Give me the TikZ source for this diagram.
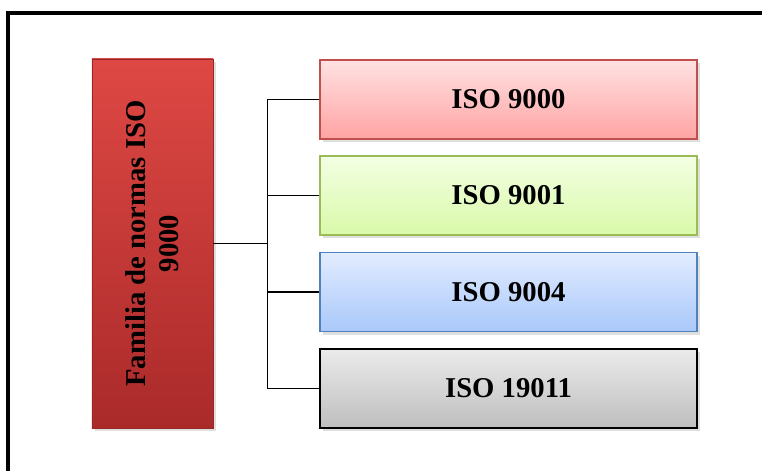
\documentclass[tikz,border=0pt]{standalone}
\usepackage{fontspec}
\setmainfont{Liberation Serif}
\usetikzlibrary{shadows}
\definecolor{famtop}{RGB}{222,72,68}
\definecolor{fambot}{RGB}{170,42,42}
\definecolor{famline}{RGB}{150,40,38}
\definecolor{redtop}{RGB}{255,226,226}
\definecolor{redbot}{RGB}{255,163,163}
\definecolor{redline}{RGB}{192,80,77}
\definecolor{greentop}{RGB}{243,255,227}
\definecolor{greenbot}{RGB}{217,249,169}
\definecolor{greenline}{RGB}{155,187,89}
\definecolor{bluetop}{RGB}{226,236,255}
\definecolor{bluebot}{RGB}{169,200,250}
\definecolor{blueline}{RGB}{79,129,189}
\definecolor{greytop}{RGB}{235,235,235}
\definecolor{greybot}{RGB}{190,190,190}
\tikzset{
    boxshadow/.style={drop shadow={shadow xshift=0.08cm, shadow yshift=-0.1cm, opacity=0.25}},
    isobox/.style={draw, line width=1.1pt, minimum width=11.31cm, minimum height=2.37cm,
        font=\bfseries\fontsize{24.5}{28}\selectfont, boxshadow},
    link/.style={line width=1.4pt},
}
\begin{document}
\begin{tikzpicture}[x=0.03cm, y=-0.03cm]
        \useasboundingbox (0,0) rectangle (762,470);
        %% outer frame
        \draw[line width=3.4pt] (8,480) -- (8,13) -- (775,13);
        %% family box
        \node[draw=famline, line width=0.6pt, top color=famtop, bottom color=fambot,
            rotate=90, minimum width=11.07cm, minimum height=3.63cm, align=center,
            font=\bfseries\fontsize{24.5}{28}\selectfont, boxshadow]
            (fam) at (152.5,243.5) {Familia de normas ISO\\9000};
        %% standards
        \node[isobox, draw=redline, top color=redtop, bottom color=redbot] (iso1) at (508.5,99.5) {ISO 9000};
        \node[isobox, draw=greenline, top color=greentop, bottom color=greenbot] (iso2) at (508.5,195.5) {ISO 9001};
        \node[isobox, draw=blueline, top color=bluetop, bottom color=bluebot] (iso3) at (508.5,292) {ISO 9004};
        \node[isobox, draw=black, top color=greytop, bottom color=greybot] (iso4) at (508.5,388.5) {ISO 19011};
        %% connectors
        \draw[link] (fam.south) -- ++(54,0) coordinate (jn);
        \draw[link] (jn |- iso1.west) -- (jn |- iso4.west);
        \foreach \b in {iso1,iso2,iso3,iso4}
            \draw[link] (jn |- \b.west) -- (\b.west);
    \end{tikzpicture}
\end{document}
